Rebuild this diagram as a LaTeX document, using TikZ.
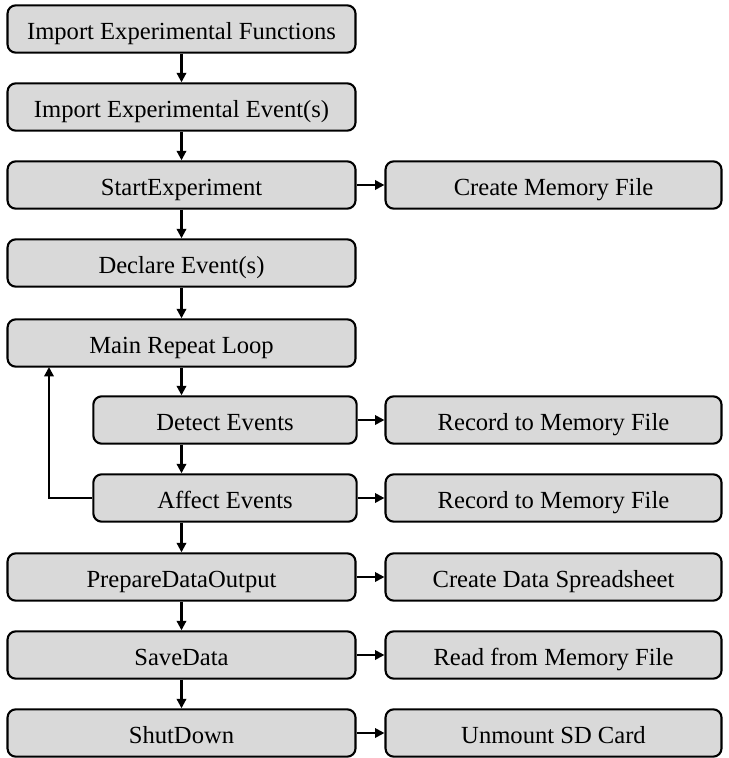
\documentclass[tikz,border=0pt]{standalone}
\usepackage{fontspec}
\setmainfont{Liberation Serif}
\usetikzlibrary{arrows.meta}

\begin{document}
\begin{tikzpicture}[
  x=0.03cm, y=-0.03cm,
  every node/.style={rectangle, rounded corners=0.25cm, draw, line width=1.8pt, fill=gray!30, minimum height=1.42cm, text height=20pt, text depth=2pt, font=\fontsize{21}{24}\selectfont},
  mainbox/.style={minimum width=10.44cm},
  sidebox/.style={minimum width=10.08cm},
  loopbox/.style={minimum width=7.9cm},
  arrow/.style={-{Triangle[length=8pt,width=8pt]}, line width=1.8pt}
]
\useasboundingbox (0,0) rectangle (728,758);

% Main column
\node[mainbox] (funcs) at (181.5,29) {Import Experimental Functions};
\node[mainbox] (events) at (181.5,107) {Import Experimental Event(s)};
\node[mainbox] (start) at (181.5,185) {StartExperiment};
\node[mainbox] (declare) at (181.5,263) {Declare Event(s)};
\node[mainbox] (loop) at (181.5,343) {Main Repeat Loop};
\node[loopbox] (detect) at (225,420) {Detect Events};
\node[loopbox] (affect) at (225,498) {Affect Events};
\node[mainbox] (prep) at (181.5,577) {PrepareDataOutput};
\node[mainbox] (save) at (181.5,655) {SaveData};
\node[mainbox] (shut) at (181.5,733) {ShutDown};

% Side column
\node[sidebox] (memfile) at (553.5,185) {Create Memory File};
\node[sidebox] (rec1) at (553.5,420) {Record to Memory File};
\node[sidebox] (rec2) at (553.5,498) {Record to Memory File};
\node[sidebox] (sheet) at (553.5,577) {Create Data Spreadsheet};
\node[sidebox] (read) at (553.5,655) {Read from Memory File};
\node[sidebox] (unmount) at (553.5,733) {Unmount SD Card};

\coordinate (back) at (49,367); % end of the loop arrow

% Edges
\draw[arrow] (funcs) -- (events);
\draw[arrow] (events) -- (start);
\draw[arrow] (start) -- (declare);
\draw[arrow] (declare) -- (loop);
\draw[arrow] (loop.south) -- (loop.south |- detect.north);
\draw[arrow] (detect.south -| loop.south) -- (affect.north -| loop.south);
\draw[arrow] (affect.south -| loop.south) -- (prep.north);
\draw[arrow] (prep) -- (save);
\draw[arrow] (save) -- (shut);
\draw[arrow] (affect.west) -| (back);

\draw[arrow] (start) -- (memfile);
\draw[arrow] (detect) -- (rec1);
\draw[arrow] (affect) -- (rec2);
\draw[arrow] (prep) -- (sheet);
\draw[arrow] (save) -- (read);
\draw[arrow] (shut) -- (unmount);

\end{tikzpicture}
\end{document}
